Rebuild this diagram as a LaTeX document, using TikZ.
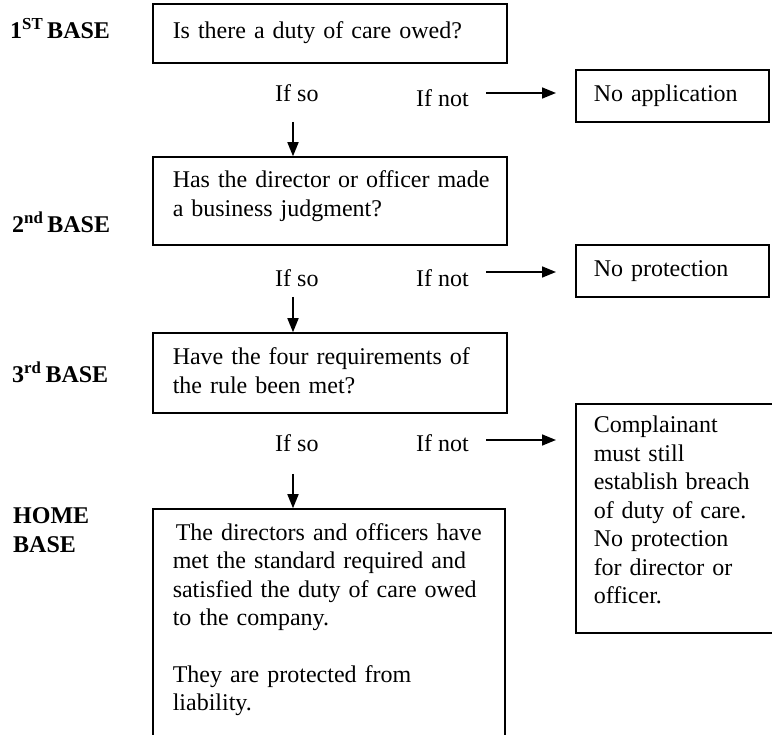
\documentclass[tikz,border=0pt]{standalone}
\usepackage{fontspec}
\setmainfont{Liberation Serif}
\usetikzlibrary{arrows.meta,positioning}

\begin{document}
\begin{tikzpicture}[x=1pt, y=-1pt,
    every node/.style={font=\fontsize{24}{28.5}\selectfont, inner sep=0pt}]
    % Styles
    \tikzstyle{question}=[draw=black, line width=1.5pt, anchor=base west, inner xsep=20pt, inner ysep=0pt, text width=314pt, align=left]
    \tikzstyle{outcome}=[draw=black, line width=1.5pt, anchor=base west, inner xsep=18pt, inner ysep=0pt, text width=157pt, align=left]
    \tikzstyle{baselabel}=[anchor=base west, font=\fontsize{24}{29}\selectfont\bfseries, text width=110pt, align=left]
    \tikzstyle{branch}=[anchor=base west]
    \tikzstyle{arrow}=[-{Triangle[length=14pt, width=11pt]}, line width=1.6pt]

    \useasboundingbox (0,0) rectangle (772,735);
    \clip (0,0) rectangle (772,735);

    % Bases
    \node (first) [baselabel] at (10,39) {1\textsuperscript{ST}\,BASE};
    \node (second) [baselabel] at (12,233) {2\textsuperscript{nd}\,BASE};
    \node (third) [baselabel] at (12,383) {3\textsuperscript{rd}\,BASE};
    \node (home) [baselabel] at (13,523) {HOME\\BASE};

    % Questions
    \node (duty) [question, text height=35pt, text depth=24pt] at (152,39) {Is there a duty of care owed?};
    \node (judgment) [question, text height=31pt, text depth=57pt] at (152,188) {\mbox{Has the director or officer made}\\a business judgment?};
    \node (rule) [question, text height=32pt, text depth=48pt] at (152,365) {Have the four requirements of\\the rule been met?};
    \node (protected) [question, text width=312pt, text height=31pt, text depth=240pt] at (152,540)
        {\hspace*{3pt}\mbox{The directors and officers have}\\\makebox[306pt][s]{met the standard required and}\\\makebox[306pt][s]{satisfied the duty of care owed}\\to the company.\\[28.5pt]They are protected from\\liability.};

    % Outcomes
    \node (noapp) [outcome, text height=32pt, text depth=20pt] at (575,102) {No application};
    \node (noprot) [outcome, text height=32pt, text depth=20pt] at (575,277) {No protection};
    \node (breach) [outcome, text width=200pt, text height=29pt, text depth=200pt] at (575,433)
        {Complainant\\must still\\establish breach\\of duty of care.\\No protection\\for director or\\officer.};

    % Branches
    \node (so1) [branch] at (275,102) {If so};
    \node (not1) [branch] at (416,107) {If not};
    \node (so2) [branch] at (275,287) {If so};
    \node (not2) [branch] at (416,287) {If not};
    \node (so3) [branch] at (275,452) {If so};
    \node (not3) [branch] at (416,452) {If not};

    % Arrow ends
    \coordinate (down1) at (293,122);
    \coordinate (down2) at (293,297);
    \coordinate (down3) at (293,474);
    \coordinate (out1) at (486,93);
    \coordinate (tip1) at (556,93);
    \coordinate (out2) at (486,272);
    \coordinate (tip2) at (556,272);
    \coordinate (out3) at (486,440);
    \coordinate (tip3) at (556,440);

    % Links
    \draw [arrow] (down1) -- (down1 |- judgment.north);
    \draw [arrow] (down2) -- (down2 |- rule.north);
    \draw [arrow] (down3) -- (down3 |- protected.north);
    \draw [arrow] (out1) -- (tip1);
    \draw [arrow] (out2) -- (tip2);
    \draw [arrow] (out3) -- (tip3);

\end{tikzpicture}
\end{document}
